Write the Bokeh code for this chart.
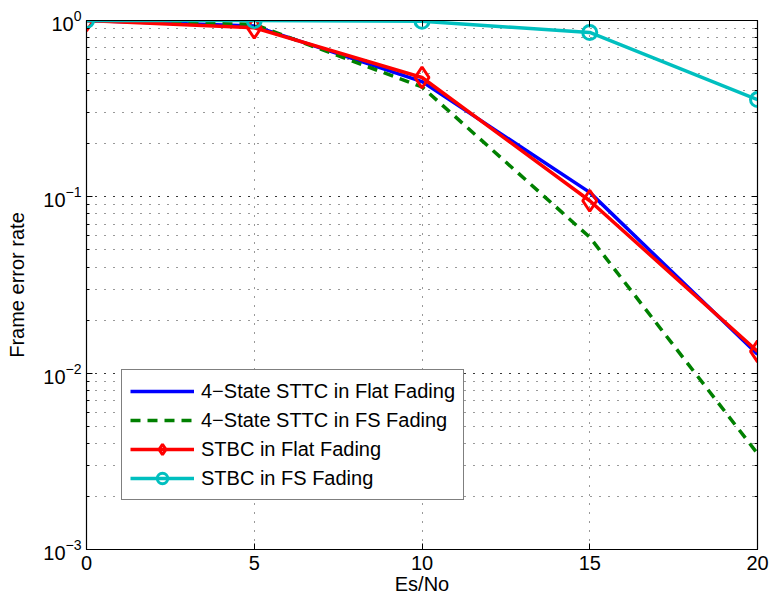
from bokeh.plotting import figure
from bokeh.models import (Range1d, LogAxis, LinearAxis, FixedTicker, LogTicker,
                          CustomJSTickFormatter, Legend, LegendItem)
from bokeh.embed import file_html
from bokeh.resources import INLINE

# Es/No in dB
es_no = [0, 5, 10, 15, 20]

# Frame error rates
sttc_flat = [1.0, 0.93, 0.45, 0.106, 0.0128]
sttc_fs = [1.0, 0.95, 0.42, 0.059, 0.0035]
stbc_flat = [1.0, 0.91, 0.475, 0.095, 0.0133]
stbc_fs = [1.0, 1.0, 0.99, 0.855, 0.356]

series_names = [
    "4\u2212State STTC in Flat Fading",
    "4\u2212State STTC in FS Fading",
    "STBC in Flat Fading",
    "STBC in FS Fading",
]

x_ticks = [0, 5, 10, 15, 20]

FONT = "Liberation Sans"
FSIZE = "20px"

p = figure(width=769, height=602, output_backend="svg", toolbar_location=None,
           x_range=Range1d(0, 20), y_range=Range1d(1e-3, 1), y_axis_type="log",
           min_border_left=86, min_border_right=12, min_border_top=20,
           min_border_bottom=53)
p.outline_line_color = "black"
p.outline_line_width = 1.2
p.background_fill_color = "white"
p.border_fill_color = "white"

# axes
xa = p.xaxis[0]
xa.ticker = FixedTicker(ticks=x_ticks)
ya = p.yaxis[0]
ya.ticker = LogTicker(num_minor_ticks=10)
for ax in (xa, ya):
    ax.major_tick_in = 6
    ax.major_tick_out = 0
    ax.minor_tick_in = 3
    ax.minor_tick_out = 0
    ax.axis_line_color = "black"
    ax.major_label_text_font = FONT
    ax.major_label_text_font_size = FSIZE
    ax.major_label_text_color = "black"
    ax.axis_label_text_font = FONT
    ax.axis_label_text_font_size = FSIZE
    ax.axis_label_text_font_style = "normal"
    ax.axis_label_text_color = "black"
xa.minor_tick_line_color = None
xa.axis_label = "Es/No"
xa.axis_label_standoff = 0
xa.major_label_standoff = 6
ya.axis_label = "Frame error rate"
ya.axis_label_standoff = 12
ya.major_label_standoff = 5

blank = CustomJSTickFormatter(code="return ''")
ra = LogAxis(ticker=LogTicker(num_minor_ticks=10), formatter=blank)
ta = LinearAxis(ticker=FixedTicker(ticks=x_ticks), formatter=blank)
for ax in (ra, ta):
    ax.major_tick_in = 6
    ax.major_tick_out = 0
    ax.minor_tick_in = 3
    ax.minor_tick_out = 0
    ax.major_label_standoff = 0
    ax.axis_line_color = "black"
ta.minor_tick_line_color = None
p.add_layout(ra, "right")
p.add_layout(ta, "above")

# dotted grid, minor lines on the log axis too
for g in (p.xgrid[0], p.ygrid[0]):
    g.grid_line_color = "black"
    g.grid_line_alpha = 0.8
    g.grid_line_dash = "1 8"
    g.grid_line_width = 1
p.ygrid[0].minor_grid_line_color = "black"
p.ygrid[0].minor_grid_line_alpha = 0.8
p.ygrid[0].minor_grid_line_dash = "1 8"

LW = 3.5
r1 = p.line(es_no, sttc_flat, line_color="#0000FF", line_width=LW)
r2 = p.line(es_no, sttc_fs, line_color="#008000", line_width=LW, line_dash="10 7")
r3 = p.line(es_no, stbc_flat, line_color="#FF0000", line_width=LW)
r3m = p.scatter(es_no, stbc_flat, marker="diamond", size=21, line_color="#FF0000",
                line_width=3, fill_alpha=0)
r4 = p.line(es_no, stbc_fs, line_color="#00BFBF", line_width=LW)
r4m = p.scatter(es_no, stbc_fs, marker="circle", size=14, line_color="#00BFBF",
                line_width=3, fill_alpha=0)

legend = Legend(items=[
    LegendItem(label=series_names[0], renderers=[r1]),
    LegendItem(label=series_names[1], renderers=[r2]),
    LegendItem(label=series_names[2], renderers=[r3, r3m]),
    LegendItem(label=series_names[3], renderers=[r4, r4m]),
], location=(35, 49))
legend.label_text_font = FONT
legend.label_text_font_size = FSIZE
legend.label_text_color = "black"
legend.glyph_width = 64
legend.glyph_height = 26
legend.label_height = 26
legend.spacing = 3
legend.padding = 8
legend.margin = 0
legend.label_standoff = 7
legend.border_line_color = "black"
legend.border_line_width = 1.2
legend.background_fill_color = "white"
legend.background_fill_alpha = 1
p.add_layout(legend, "center")

open("out.html", "w").write(file_html(p, INLINE))
